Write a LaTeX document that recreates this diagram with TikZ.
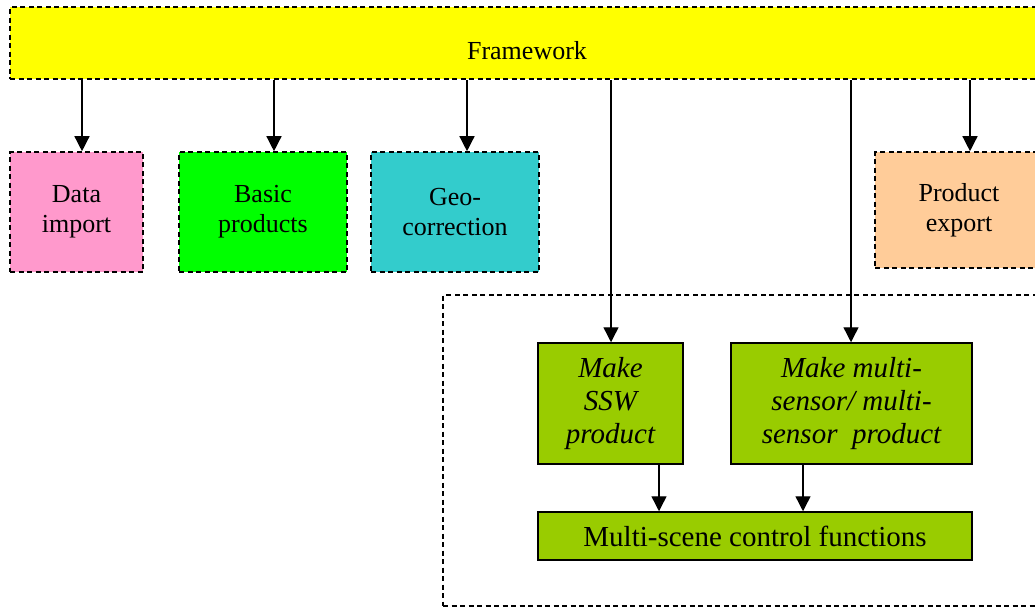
\documentclass[tikz,border=0pt]{standalone}
\usepackage{fontspec}
\setmainfont{Liberation Serif}
\usetikzlibrary{arrows.meta}

\definecolor{frameyellow}{HTML}{FFFF00}
\definecolor{importpink}{HTML}{FF99CC}
\definecolor{basicgreen}{HTML}{00FF00}
\definecolor{geoteal}{HTML}{33CCCC}
\definecolor{exportpeach}{HTML}{FFCC99}
\definecolor{taskgreen}{HTML}{99CC00}

\tikzset{
  module/.style = {rectangle, line width = 1.6pt, draw = black, dash pattern = on 5pt off 3.5pt, inner sep = 0pt, align = center, font = \fontsize{26}{30}\selectfont},
  task/.style = {rectangle, line width = 1.5pt, draw = black, fill = taskgreen, inner sep = 0pt, align = center, font = \fontsize{29}{33}\selectfont\itshape},
  link/.style = {draw, line width = 1.4pt, -{Triangle[length = 15pt, width = 15pt]}}
}

\begin{document}
\begin{tikzpicture}[x = 1pt, y = -1pt]

\useasboundingbox (0, 0) rectangle (1035, 608);
\clip (0, 0) rectangle (1035, 608);

\node[module, fill = frameyellow, minimum width = 1034pt, minimum height = 72pt, text height = 32pt, text depth = 0pt] (framework) at (527, 43) {Framework};

\node[module, fill = importpink, minimum width = 133pt, minimum height = 120pt] (import) at (76.5, 212) {Data\\import};
\node[module, fill = basicgreen, minimum width = 168pt, minimum height = 120pt] (basic) at (263, 212) {Basic\\products};
\node[module, fill = geoteal, minimum width = 168pt, minimum height = 120pt] (geo) at (455, 212) {Geo-\\correction};
\node[module, fill = exportpeach, minimum width = 168pt, minimum height = 116pt] (export) at (959, 210) {Product\\export};

\node[module, minimum width = 622pt, minimum height = 311pt] (group) at (754, 450.5) {};

\node[task, minimum width = 145pt, minimum height = 121pt] (ssw) at (610.5, 403.5) {Make\\SSW\\product};
\node[task, minimum width = 241pt, minimum height = 121pt] (multi) at (851.5, 403.5) {Make multi-\\sensor/ multi-\\sensor\ \ product};
\node[task, font = \fontsize{29}{33}\selectfont, minimum width = 434pt, minimum height = 48pt] (scene) at (755, 536) {Multi-scene control functions};

\coordinate (c1) at ([xshift = 5.5pt] import.north);
\coordinate (c2) at ([xshift = 11pt] basic.north);
\coordinate (c3) at ([xshift = 12pt] geo.north);
\coordinate (c4) at ([xshift = 11pt] export.north);
\coordinate (c5) at ([xshift = 0.5pt] ssw.north);
\coordinate (c6) at ([xshift = -0.5pt] multi.north);
\coordinate (c7) at ([xshift = 48.5pt] ssw.south);
\coordinate (c8) at ([xshift = -48.5pt] multi.south);

\path [link] (framework.south -| c1) -- (c1);
\path [link] (framework.south -| c2) -- (c2);
\path [link] (framework.south -| c3) -- (c3);
\path [link] (framework.south -| c4) -- (c4);

\path [link] (framework.south -| c5) -- (c5);
\path [link] (framework.south -| c6) -- (c6);

\path [link] (c7) -- (scene.north -| c7);
\path [link] (c8) -- (scene.north -| c8);

\end{tikzpicture}
\end{document}
